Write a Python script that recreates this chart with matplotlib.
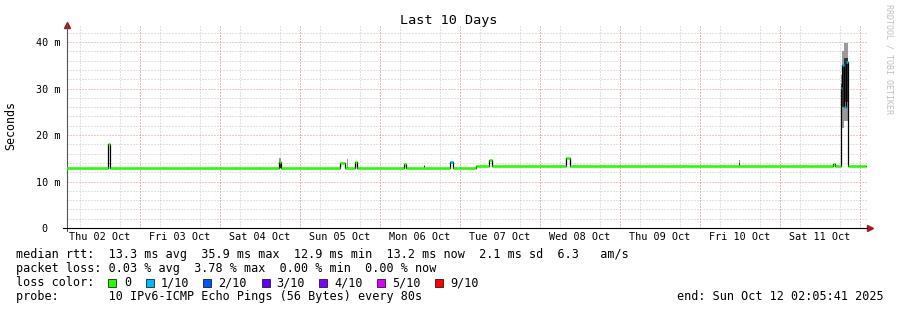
import pandas as pd
import matplotlib
matplotlib.use("Agg")
import matplotlib.pyplot as plt
import matplotlib.dates as mdates
from matplotlib.ticker import MultipleLocator, FuncFormatter
from matplotlib.patches import Rectangle

# smokeping "Last 10 Days" - median rtt in ms, step changes
med_time = ["2025-10-02 02:05", "2025-10-02 14:32", "2025-10-02 15:08",
            "2025-10-04 17:50", "2025-10-04 18:26", "2025-10-05 12:17",
            "2025-10-05 13:38", "2025-10-05 16:38", "2025-10-05 17:14",
            "2025-10-06 07:29", "2025-10-06 08:05", "2025-10-06 21:17",
            "2025-10-06 22:11", "2025-10-07 04:56", "2025-10-07 08:50",
            "2025-10-07 09:44", "2025-10-08 08:05", "2025-10-08 09:17",
            "2025-10-11 16:11", "2025-10-11 16:38", "2025-10-11 18:23",
            "2025-10-11 18:53", "2025-10-11 19:29", "2025-10-11 20:05",
            "2025-10-11 20:29", "2025-10-12 02:05"]
med_ms = [12.9, 18.0, 12.9, 14.1, 12.9, 13.9, 12.9, 14.3, 12.9, 13.8, 12.9,
          14.3, 12.9, 13.25, 14.7, 13.25, 15.0, 13.25, 13.8, 13.25, 30.2,
          35.0, 26.0, 35.8, 13.25, 13.25]
med_loss = [0, 0, 0, 0, 0, 0, 0, 0, 0, 0, 0, 1, 0, 0, 0, 0, 0, 0, 0, 0, 1,
            1, 1, 1, 0, 0]

# smoke (spread of the pings)
smoke_from = ["2025-10-04 17:50", "2025-10-05 14:23", "2025-10-06 13:20",
              "2025-10-10 11:46", "2025-10-11 18:23", "2025-10-11 18:53",
              "2025-10-11 19:29"]
smoke_to = ["2025-10-04 18:26", "2025-10-05 14:41", "2025-10-06 13:38",
            "2025-10-10 12:17", "2025-10-11 18:53", "2025-10-11 19:29",
            "2025-10-11 20:29"]
smoke_lo = [13.0, 12.9, 13.0, 13.3, 24.0, 21.5, 23.0]
smoke_hi = [15.0, 14.8, 13.6, 14.6, 33.0, 38.0, 39.7]
core_lo = [13.0, 12.9, 13.0, 13.3, 27.0, 26.0, 27.0]
core_hi = [14.2, 13.2, 13.4, 14.0, 31.0, 35.0, 36.5]

loss_labels = ["0", "1/10", "2/10", "3/10", "4/10", "5/10", "9/10"]
loss_colors = ["#26ff00", "#00b8ff", "#0059ff", "#5e00ff", "#7e00ff",
               "#dd00ff", "#ff0000"]

t_start = pd.Timestamp("2025-10-02 02:05:41")
t_end = pd.Timestamp("2025-10-12 02:05:41")

W, H = 897, 310
MONO = "DejaVu Sans Mono"
plt.rcParams["font.family"] = MONO

fig = plt.figure(figsize=(W / 100, H / 100), dpi=100)
fig.patch.set_facecolor("white")
ax = fig.add_axes([66.5 / W, (H - 228) / H, 800 / W, 203 / H])

t = mdates.date2num(pd.to_datetime(med_time))
sf = mdates.date2num(pd.to_datetime(smoke_from))
st = mdates.date2num(pd.to_datetime(smoke_to))

# smoke
ax.bar(sf, [h - l for h, l in zip(smoke_hi, smoke_lo)], bottom=smoke_lo,
       width=st - sf, align="edge", color="#9a9a9a", lw=0, zorder=2)
ax.bar(sf, [h - l for h, l in zip(core_hi, core_lo)], bottom=core_lo,
       width=st - sf, align="edge", color="#333333", lw=0, zorder=2)

# median
ax.step(t, med_ms, where="post", color="black", lw=0.9, zorder=3)
ax.hlines(med_ms[:-1], t[:-1], t[1:], colors=[loss_colors[l] for l in med_loss[:-1]],
          lw=1.8, zorder=4)

ax.set_xlim(mdates.date2num(t_start), mdates.date2num(t_end))
ax.set_ylim(0, 43.66)

# grid
dots = (0, (1, 2))
ax.yaxis.set_major_locator(MultipleLocator(10))
ax.yaxis.set_minor_locator(MultipleLocator(2))
ax.yaxis.set_major_formatter(FuncFormatter(lambda v, p: f"{int(v)} m" if v else "0  "))
ax.xaxis.set_major_locator(mdates.HourLocator(byhour=12))
ax.xaxis.set_minor_locator(mdates.HourLocator(byhour=[0, 6, 12, 18]))
ax.xaxis.set_major_formatter(mdates.DateFormatter("%a %d %b"))
ax.grid(which="minor", color="#c4c4c4", lw=0.72, ls=dots)
ax.grid(which="major", axis="y", color="#e49090", lw=0.72, ls=dots)
ax.grid(which="major", axis="x", visible=False)
for d in pd.date_range("2025-10-03", "2025-10-12"):
    ax.axvline(mdates.date2num(d), color="#e49090", lw=0.72, ls=dots, zorder=1.5)
ax.set_axisbelow(True)

ax.tick_params(which="both", length=0)
ax.tick_params(axis="y", labelsize=7.3, pad=4.5)
ax.tick_params(axis="x", labelsize=7.3, pad=3)

for s in ["top", "right"]:
    ax.spines[s].set_visible(False)
ax.spines["left"].set_color("#555555")
ax.spines["left"].set_linewidth(0.8)
ax.spines["bottom"].set_color("black")
ax.spines["bottom"].set_linewidth(0.8)
ax.plot([1.0, 1.004], [0, 0], transform=ax.transAxes, color="black", lw=0.8, clip_on=False)
ax.plot([-0.005, 0], [0, 0], transform=ax.transAxes, color="black", lw=0.8, clip_on=False)
ax.plot([0, 0], [-0.013, 0], transform=ax.transAxes, color="#555555", lw=0.8, clip_on=False)
ax.plot([1.004], [0], marker=">", ms=4, color="#9a1c1c", transform=ax.transAxes, clip_on=False)
ax.plot([0], [1.0], marker="^", ms=4, color="#9a1c1c", transform=ax.transAxes, clip_on=False)


def px(x, y):
    return x / W, 1 - y / H


fig.text(*px(448.5, 24), "Last 10 Days", fontsize=9.7, ha="center", va="baseline")
fig.text(*px(11, 126), "Seconds", fontsize=8.4, rotation=90, ha="center", va="center")
fig.text(*px(888.5, 59), "RRDTOOL / TOBI OETIKER", fontsize=6, color="#c0c0c0",
         rotation=270, ha="center", va="center")

fs = 8.5
fig.text(*px(16, 258), "median rtt:  13.3 ms avg  35.9 ms max  12.9 ms min  13.2 ms now  2.1 ms sd  6.3   am/s",
         fontsize=fs, va="baseline")
fig.text(*px(16, 272), "packet loss: 0.03 % avg  3.78 % max  0.00 % min  0.00 % now",
         fontsize=fs, va="baseline")
fig.text(*px(16, 286), "loss color:", fontsize=fs, va="baseline")
fig.text(*px(16, 300), "probe:       10 IPv6-ICMP Echo Pings (56 Bytes) every 80s",
         fontsize=fs, va="baseline")
fig.text(*px(884, 300), "end: Sun Oct 12 02:05:41 2025", fontsize=fs, va="baseline", ha="right")

box_x = [108, 145.7, 203, 261.7, 319, 377.3, 435]
lab_x = [124.5, 160.5, 218, 276, 334, 392, 450]
for bx, lx, lab, c in zip(box_x, lab_x, loss_labels, loss_colors):
    fig.patches.append(Rectangle(px(bx, 286.8), 8 / W, 8 / H, transform=fig.transFigure,
                                 facecolor=c, edgecolor="black", lw=0.5))
    fig.text(*px(lx, 286), lab, fontsize=fs, va="baseline")

fig.savefig("out.png", dpi=100, facecolor="white")
